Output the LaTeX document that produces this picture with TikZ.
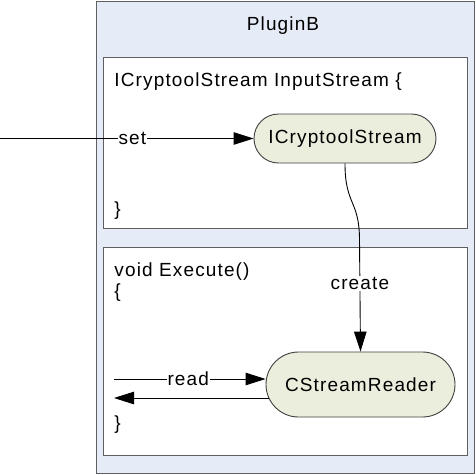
\documentclass[tikz,border=0pt]{standalone}
\usepackage{fontspec}
\setmainfont[LetterSpace=6]{Liberation Sans}
\usetikzlibrary{arrows.meta,calc}
\definecolor{outerfill}{HTML}{E6ECF7}
\definecolor{nodefill}{HTML}{EBEEDD}
\definecolor{boxline}{HTML}{5F5F5F}
\begin{document}
\begin{tikzpicture}[x=1pt,y=-1pt,
  font=\fontsize{19}{23}\selectfont, line width=0.9pt,
  frame/.style={draw=boxline, inner sep=0pt},
  pill/.style={draw=black!75, fill=nodefill, inner sep=0pt},
  lbl/.style={fill=white, inner sep=1pt},
  txt/.style={anchor=base west, inner sep=0pt},
  arr/.style={-{Triangle[length=20pt,width=12.5pt]}}]
\useasboundingbox (0,0) rectangle (475,475);
% boxes
\node[frame, fill=outerfill, minimum width=378pt, minimum height=472pt] (outer) at (285.2,237) {};
\node[frame, fill=white, minimum width=364pt, minimum height=171pt] (box1) at (285,142.5) {};
\node[frame, fill=white, minimum width=364pt, minimum height=208pt] (box2) at (285,351) {};
% texts
\node[anchor=base, inner sep=0pt] (title) at (283,30.5) {PluginB};
\node[txt] (t1) at (114,86) {ICryptoolStream InputStream \{};
\node[txt] (t2) at (114,215.5) {\}};
\node[txt] (t3) at (114,276.5) {void Execute()};
\node[txt] (t4) at (114,297.5) {\{};
\node[txt] (t5) at (114,429.5) {\}};
% rounded nodes
\node[pill, minimum width=182pt, minimum height=49pt, rounded corners=24.5pt] (ics) at (345,138.5) {ICryptoolStream};
\node[pill, minimum width=189pt, minimum height=65pt, rounded corners=32.5pt] (csr) at (360.5,384.5) {CStreamReader};
% connectors
\coordinate (src) at (0,138.5);
\draw[arr] (src) -- node[lbl, pos=0.522] {set} (ics.west);
\coordinate (bend) at (359.5,240);
\draw[arr] (ics.south) .. controls +(0,42) and +(0,-40) .. (bend) -- node[lbl, pos=0.39] {create} (csr.north);
\coordinate (rin) at (114,379);
\draw[arr] (rin) -- node[lbl, pos=0.49] {read} (rin -| csr.west);
\coordinate (rout) at (114,398);
\draw[arr] ($(csr.west)+(3,13.5)$) -- (rout);
\end{tikzpicture}
\end{document}
